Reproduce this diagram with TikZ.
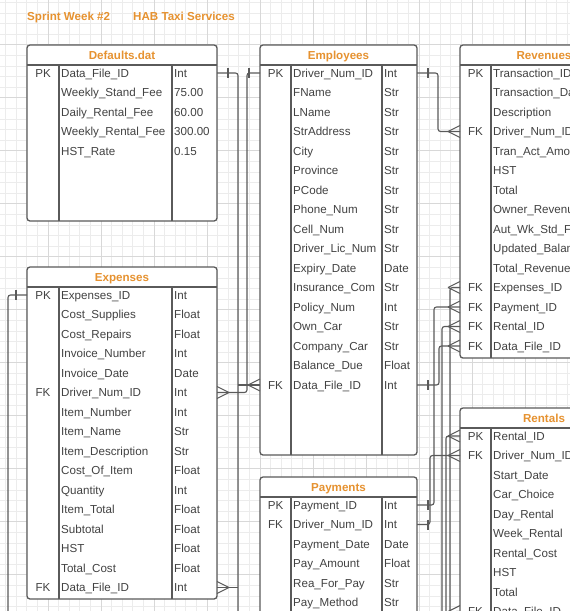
\documentclass[tikz,border=0pt]{standalone}
\usepackage{fontspec}
\setmainfont{Liberation Sans}
\usetikzlibrary{calc}
\definecolor{orng}{RGB}{230,146,48}
\definecolor{lgray}{RGB}{90,90,90}
\definecolor{txt}{RGB}{66,66,66}
\definecolor{gridmin}{RGB}{236,236,236}
\definecolor{gridmaj}{RGB}{216,216,216}

\tikzset{
  tblbox/.style={draw=lgray, line width=1.3pt, rounded corners=3pt, fill=white, inner sep=0pt, outer sep=0pt},
  tblline/.style={draw=lgray, line width=1.3pt},
  titletext/.style={anchor=base, font=\fontsize{11.6}{13}\selectfont\bfseries, text=orng, inner sep=0pt},
  celltext/.style={anchor=base west, text=txt, inner sep=0pt},
  keytext/.style={anchor=base, text=txt, inner sep=0pt},
  conn/.style={draw=lgray, line width=1.1pt, rounded corners=2.5pt},
  deco/.style={draw=lgray, line width=1.1pt},
  gmin/.style={draw=gridmin, line width=0.7pt},
  gmaj/.style={draw=gridmaj, line width=0.8pt}
}

% #1 id, #2 left, #3 right, #4 top, #5 bottom, #6 pk divider, #7 type divider, #8 title
\newcommand\ertable[8]{%
  \node[tblbox, minimum width=#3pt-#2pt, minimum height=#5pt-#4pt, anchor=north west] (#1) at (#2,#4) {};
  \draw[tblline] (#2,#4+20) -- (#3,#4+20);
  \draw[tblline] (#6,#4+20) -- (#6,#5);
  \draw[tblline] (#7,#4+20) -- (#7,#5);
  \node[titletext] (#1-title) at ({(#2+#3)/2},#4+14) {#8};
}
% #1 id, #2 left, #3 pk divider, #4 type divider, #5 right, #6 top, #7 rows
\newcommand\errows[7]{%
  \foreach \rk/\rn/\rt [count=\i] in {#7} {
    \pgfmathsetmacro\yy{#6+28+19.5*(\i-1)}
    \node[keytext] (#1-k\i) at ({(#2+#3)/2},\yy+4) {\rk};
    \node[celltext] (#1-n\i) at (#3+2,\yy+4) {\rn};
    \node[celltext] (#1-t\i) at (#4+2,\yy+4) {\rt};
    \coordinate (#1-L\i) at (#2,\yy);
    \coordinate (#1-R\i) at (#5,\yy);
  }
}
\newcommand\crowW[1]{\draw[deco] (#1) ++(-12,0) -- ++(12,-6) (#1) ++(-12,0) -- ++(12,6);}
\newcommand\crowE[1]{\draw[deco] (#1) ++(12,0) -- ++(-12,-6) (#1) ++(12,0) -- ++(-12,6);}
\newcommand\tickE[1]{\draw[deco] (#1) ++(11,-5) -- ++(0,10);}
\newcommand\tickW[1]{\draw[deco] (#1) ++(-11,-5) -- ++(0,10);}

\begin{document}
\begin{tikzpicture}[x=1pt, y=-1pt, font=\fontsize{11.6}{13}\selectfont]
\useasboundingbox (0,0) rectangle (570,611);
\clip (0,0) rectangle (570,611);
\fill[white] (0,0) rectangle (570,611);
% grid
\foreach \k in {0,...,53} { \draw[gmin] ({5.6+10.6*\k},0) -- ++(0,611); }
\foreach \k in {0,...,57} { \draw[gmin] (0,{2.4+10.6*\k}) -- ++(570,0); }
\foreach \k in {4,9,...,54} { \draw[gmaj] ({5.6+10.6*\k},0) -- ++(0,611); }
\foreach \k in {4,9,...,54} { \draw[gmaj] (0,{2.4+10.6*\k}) -- ++(570,0); }

% headings
\node[titletext, anchor=base west] (hsprint) at (27,20) {Sprint Week \#2};
\node[titletext, anchor=base west] (hhab) at (133,20) {HAB Taxi Services};

% tables
\ertable{def}{27}{217}{45}{221}{59}{172}{Defaults.dat}
\errows{def}{27}{59}{172}{217}{45}{PK/Data\_File\_ID/Int, {}/Weekly\_Stand\_Fee/75.00, {}/Daily\_Rental\_Fee/60.00, {}/Weekly\_Rental\_Fee/300.00, {}/HST\_Rate/0.15}

\ertable{emp}{260}{417}{45}{455}{291}{382}{Employees}
\errows{emp}{260}{291}{382}{417}{45}{PK/Driver\_Num\_ID/Int, {}/FName/Str, {}/LName/Str, {}/StrAddress/Str, {}/City/Str, {}/Province/Str, {}/PCode/Str, {}/Phone\_Num/Str, {}/Cell\_Num/Str, {}/Driver\_Lic\_Num/Str, {}/Expiry\_Date/Date, {}/Insurance\_Com/Str, {}/Policy\_Num/Int, {}/Own\_Car/Str, {}/Company\_Car/Str, {}/Balance\_Due/Float, FK/Data\_File\_ID/Int}

\ertable{rev}{460}{628}{45}{358}{491}{600}{Revenues}
\errows{rev}{460}{491}{600}{628}{45}{PK/Transaction\_ID/{}, {}/Transaction\_Date/{}, {}/Description/{}, FK/Driver\_Num\_ID/{}, {}/Tran\_Act\_Amount/{}, {}/HST/{}, {}/Total/{}, {}/Owner\_Revenue/{}, {}/Aut\_Wk\_Std\_Fee/{}, {}/Updated\_Balance/{}, {}/Total\_Revenue/{}, FK/Expenses\_ID/{}, FK/Payment\_ID/{}, FK/Rental\_ID/{}, FK/Data\_File\_ID/{}}

\ertable{exp}{27}{217}{267}{599}{59}{172}{Expenses}
\errows{exp}{27}{59}{172}{217}{267}{PK/Expenses\_ID/Int, {}/Cost\_Supplies/Float, {}/Cost\_Repairs/Float, {}/Invoice\_Number/Int, {}/Invoice\_Date/Date, FK/Driver\_Num\_ID/Int, {}/Item\_Number/Int, {}/Item\_Name/Str, {}/Item\_Description/Str, {}/Cost\_Of\_Item/Float, {}/Quantity/Int, {}/Item\_Total/Float, {}/Subtotal/Float, {}/HST/Float, {}/Total\_Cost/Float, FK/Data\_File\_ID/Int}

\ertable{pay}{260}{417}{477}{660}{291}{382}{Payments}
\errows{pay}{260}{291}{382}{417}{477}{PK/Payment\_ID/Int, FK/Driver\_Num\_ID/Int, {}/Payment\_Date/Date, {}/Pay\_Amount/Float, {}/Rea\_For\_Pay/Str, {}/Pay\_Method/Str}

\ertable{ren}{460}{628}{408}{660}{491}{600}{Rentals}
\errows{ren}{460}{491}{600}{628}{408}{PK/Rental\_ID/{}, FK/Driver\_Num\_ID/{}, {}/Start\_Date/{}, {}/Car\_Choice/{}, {}/Day\_Rental/{}, {}/Week\_Rental/{}, {}/Rental\_Cost/{}, {}/HST/{}, {}/Total/{}, FK/Data\_File\_ID/{}}

% waypoint coordinates
\coordinate (jL1) at (238,650);
\coordinate (jL2) at (247,0);
\coordinate (jL3) at (8,650);
\coordinate (jR1) at (438,0);
\coordinate (jR2) at (439,0);
\coordinate (jR3) at (434,0);
\coordinate (jR4) at (442,650);
\coordinate (jR5) at (450,650);
\coordinate (jR6) at (430,0);
\coordinate (jR7) at (446,650);
\coordinate (jR8) at (454,650);

% left connectors
\draw[conn] (def-R1) -| (jL1);
\draw[conn] (exp-R16) -- (exp-R16 -| jL1);
\draw[conn] (emp-L17) -- (emp-L17 -| jL1);
\draw[conn] (emp-L1) -- (emp-L1 -| jL2) -- (exp-R6 -| jL2) -- (exp-R6);
\draw[conn] (exp-L1) -| (jL3);

% right connectors
\draw[conn] (emp-R1) -- (emp-R1 -| jR1) -- (rev-L4 -| jR1) -- (rev-L4);
\draw[conn] (emp-R17) -- (emp-R17 -| jR2) -- (rev-L15 -| jR2) -- (rev-L15);
\draw[conn] (pay-R1) -- (pay-R1 -| jR3) -- (rev-L13 -| jR3) -- (rev-L13);
\draw[conn] (rev-L14) -| (jR4);
\draw[conn] (rev-L12) -| (jR5);
\draw[conn] (pay-R2) -- (pay-R2 -| jR6) -- (ren-L2 -| jR6) -- (ren-L2);
\draw[conn] (ren-L1) -| (jR7);
\draw[conn] (ren-L10) -| (jR8);

% ends
\tickE{def-R1}
\tickW{emp-L1}
\tickE{emp-R1}
\tickE{emp-R17}
\tickW{exp-L1}
\tickE{pay-R1}
\tickE{pay-R2}
\crowW{emp-L17}
\crowE{exp-R6}
\crowE{exp-R16}
\crowW{rev-L4}
\crowW{rev-L12}
\crowW{rev-L13}
\crowW{rev-L14}
\crowW{rev-L15}
\crowW{ren-L1}
\crowW{ren-L2}
\crowW{ren-L10}
\end{tikzpicture}
\end{document}
